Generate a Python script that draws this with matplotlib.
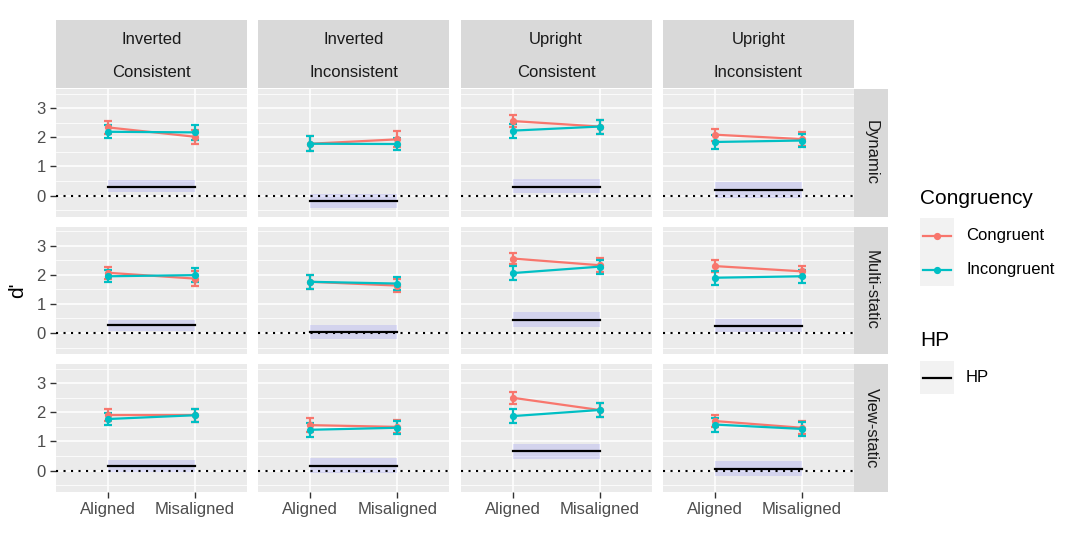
import numpy as np
import matplotlib
matplotlib.use('Agg')
import matplotlib.pyplot as plt
from matplotlib.lines import Line2D
from matplotlib.patches import Rectangle

plt.rcParams['font.family'] = ['Liberation Sans', 'DejaVu Sans']

# facets
rows = ['Dynamic', 'Multi-static', 'View-static']
cols = [('Inverted', 'Consistent'), ('Inverted', 'Inconsistent'),
        ('Upright', 'Consistent'), ('Upright', 'Inconsistent')]
alignment = ['Aligned', 'Misaligned']

# d' means [row][col] = [Aligned, Misaligned]
cong_mean = [[[2.34, 2.02], [1.78, 1.93], [2.56, 2.37], [2.09, 1.94]],
             [[2.07, 1.87], [1.76, 1.63], [2.56, 2.33], [2.30, 2.12]],
             [[1.90, 1.90], [1.56, 1.50], [2.50, 2.08], [1.70, 1.47]]]
cong_ci = [[[0.21, 0.24], [0.25, 0.27], [0.21, 0.24], [0.21, 0.25]],
           [[0.21, 0.25], [0.23, 0.21], [0.20, 0.24], [0.21, 0.20]],
           [[0.20, 0.23], [0.24, 0.22], [0.20, 0.24], [0.20, 0.23]]]
incong_mean = [[[2.19, 2.17], [1.78, 1.77], [2.23, 2.37], [1.84, 1.89]],
               [[1.95, 1.99], [1.76, 1.70], [2.06, 2.28], [1.90, 1.95]],
               [[1.77, 1.90], [1.40, 1.47], [1.87, 2.08], [1.58, 1.43]]]
incong_ci = [[[0.23, 0.25], [0.25, 0.20], [0.24, 0.24], [0.25, 0.23]],
             [[0.21, 0.23], [0.23, 0.22], [0.24, 0.24], [0.24, 0.23]],
             [[0.21, 0.23], [0.24, 0.22], [0.24, 0.24], [0.24, 0.24]]]

# HP estimate with band [row][col]
hp_mean = [[0.31, -0.18, 0.31, 0.20],
           [0.26, 0.05, 0.46, 0.23],
           [0.15, 0.17, 0.66, 0.06]]
hp_lo = [[0.11, -0.44, 0.09, -0.08],
         [0.06, -0.21, 0.22, 0.03],
         [-0.06, -0.08, 0.40, -0.19]]
hp_hi = [[0.54, 0.06, 0.58, 0.46],
         [0.46, 0.29, 0.72, 0.48],
         [0.36, 0.43, 0.92, 0.33]]

C_CONG = '#F8766D'
C_INC = '#00BFC4'
W, H = 1080, 540

def rect(x0, y0, x1, y1):
    return [x0 / W, 1 - y1 / H, (x1 - x0) / W, (y1 - y0) / H]

fig = plt.figure(figsize=(10.8, 5.4), dpi=100)

x = np.array([1, 2])
for r in range(3):
    for c in range(4):
        x0 = 56 + c * 202.3
        y0 = 89 + r * 137.5
        ax = fig.add_axes(rect(x0, y0, x0 + 191, y0 + 127.5))
        ax.set_facecolor('#EBEBEB')
        for s in ax.spines.values():
            s.set_visible(False)
        ax.set_xlim(0.4, 2.6)
        ax.set_ylim(-0.72, 3.66)
        ax.set_yticks([0, 1, 2, 3])
        ax.set_yticks([-0.5, 0.5, 1.5, 2.5, 3.5], minor=True)
        ax.set_xticks(x)
        ax.grid(True, which='major', color='white', lw=1.1)
        ax.grid(True, which='minor', axis='y', color='white', lw=0.55)
        ax.set_axisbelow(True)

        ax.fill_between(x, hp_lo[r][c], hp_hi[r][c], color='blue', alpha=0.1, lw=0)
        ax.plot(x, [hp_mean[r][c]] * 2, color='black', lw=1.6)
        ax.axhline(0, color='black', lw=1.5, ls=(0, (1, 2.6)))

        for m, ci, col in [(cong_mean, cong_ci, C_CONG), (incong_mean, incong_ci, C_INC)]:
            ax.errorbar(x, m[r][c], yerr=ci[r][c], color=col, lw=1.6, elinewidth=1.6,
                        capsize=3.2, capthick=1.6, marker='o', ms=4.2)

        ax.tick_params(which='minor', length=0)
        ax.tick_params(which='major', color='#333333', length=4, width=1.0,
                       labelcolor='#4D4D4D', labelsize=12)
        if c == 0:
            ax.set_yticklabels(['0', '1', '2', '3'])
        else:
            ax.tick_params(axis='y', length=0, labelleft=False)
        if r == 2:
            ax.set_xticklabels(alignment)
        else:
            ax.tick_params(axis='x', length=0, labelbottom=False)

        if r == 0:
            sax = fig.add_axes(rect(x0, 20, x0 + 191, 88))
            sax.set_facecolor('#D9D9D9')
            sax.set_xticks([]); sax.set_yticks([])
            for s in sax.spines.values():
                s.set_visible(False)
            sax.text(0.5, 0.72, cols[c][0], ha='center', va='center', fontsize=12,
                     color='#1A1A1A', transform=sax.transAxes)
            sax.text(0.5, 0.23, cols[c][1], ha='center', va='center', fontsize=12,
                     color='#1A1A1A', transform=sax.transAxes)
        if c == 3:
            rax = fig.add_axes(rect(854, y0, 888, y0 + 127.5))
            rax.set_facecolor('#D9D9D9')
            rax.set_xticks([]); rax.set_yticks([])
            for s in rax.spines.values():
                s.set_visible(False)
            rax.text(0.5, 0.5, rows[r], ha='center', va='center', rotation=-90,
                     fontsize=12, color='#1A1A1A', transform=rax.transAxes)

fig.text(18 / W, 1 - 290 / H, "d'", rotation=90, ha='center', va='center', fontsize=15)

# legend drawn in a pixel-coordinate overlay
lax = fig.add_axes([0, 0, 1, 1], facecolor='none')
lax.set_xlim(0, W); lax.set_ylim(H, 0); lax.axis('off')
lax.text(920, 198, 'Congruency', fontsize=15, va='center', ha='left')
lax.add_patch(Rectangle((920, 218), 34, 68, color='#F2F2F2', lw=0))
for yy, col, lab in [(235.5, C_CONG, 'Congruent'), (269.5, C_INC, 'Incongruent')]:
    lax.add_line(Line2D([923, 951], [yy, yy], color=col, lw=1.6))
    lax.plot([937], [yy], 'o', color=col, ms=4.2)
    lax.text(966, yy, lab, fontsize=12, va='center', ha='left')
lax.text(920, 341, 'HP', fontsize=15, va='center', ha='left')
lax.add_patch(Rectangle((920, 361), 34, 33, color='#F2F2F2', lw=0))
lax.add_line(Line2D([923, 951], [378, 378], color='black', lw=1.6))
lax.text(966, 378, 'HP', fontsize=12, va='center', ha='left')

fig.savefig('out.png', dpi=100)
